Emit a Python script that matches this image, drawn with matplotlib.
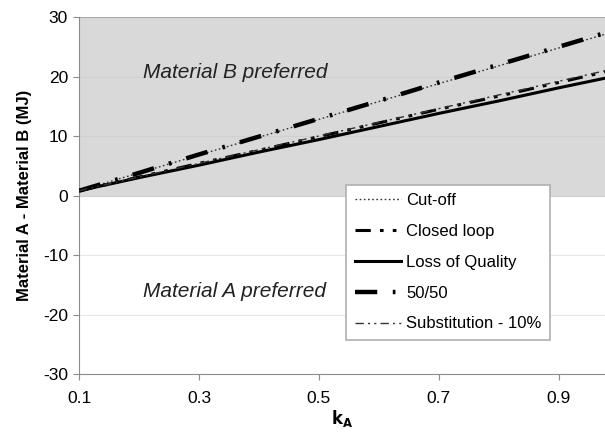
import matplotlib as mpl
import matplotlib.pyplot as plt
import numpy as np

mpl.rcParams["font.family"] = "Liberation Sans"
mpl.rcParams["axes.unicode_minus"] = False

# data
k = [0.1, 0.2, 0.3, 0.4, 0.5, 0.6, 0.7, 0.8, 0.9, 1.0]
cut_off = [0.8, 3.8, 6.8, 9.8, 12.8, 15.8, 18.8, 21.8, 24.8, 27.8]
closed_loop = [0.8, 3.1, 5.4, 7.6, 9.9, 12.2, 14.5, 16.7, 19.0, 21.3]
loss_quality = [0.8, 3.0, 5.1, 7.3, 9.4, 11.6, 13.8, 15.9, 18.1, 20.2]
fifty_fifty = [0.8, 3.8, 6.9, 9.9, 12.9, 15.9, 19.0, 22.0, 25.0, 28.0]
substitution = [0.8, 3.1, 5.4, 7.7, 10.0, 12.3, 14.6, 16.9, 19.2, 21.5]

x_ticks = [0.1, 0.3, 0.5, 0.7, 0.9]
y_ticks = [-30, -20, -10, 0, 10, 20, 30]

GRAY = "#8c8c8c"

fig = plt.figure(figsize=(6.05, 4.34), dpi=100)
ax = fig.add_axes([0.1306, 0.1382, 0.8694, 0.8226])

ax.axhspan(0, 30, color="#d9d9d9", zorder=0, lw=0)
for yv in y_ticks[1:-1]:
    ax.axhline(yv, color="#e6e6e6" if yv < 0 else "#d0d0d0", lw=0.8, zorder=0.5)

ax.plot(k, cut_off, color="#333333", lw=1.0, ls=(0, (1.2, 1.8)), label="Cut-off", zorder=3)
ax.plot(k, closed_loop, color="black", lw=2.2, ls=(0, (5, 3, 1.2, 3, 1.2, 3)), label="Closed loop", zorder=3)
ax.plot(k, loss_quality, color="black", lw=2.2, ls="-", label="Loss of Quality", zorder=3)
ax.plot(k, fifty_fifty, color="black", lw=3.2, ls=(0, (5, 3.5, 0.6, 3.5)), label="50/50", zorder=3)
ax.plot(k, substitution, color="#333333", lw=1.0, ls=(0, (6, 3, 1.5, 3, 1.5, 3)), label="Substitution - 10%", zorder=3)

ax.text(0.207, 20.6, "Material B preferred", fontsize=15, style="italic", va="center", ha="left", color="#222222")
ax.text(0.207, -16.1, "Material A preferred", fontsize=15, style="italic", va="center", ha="left", color="#222222")

ax.set_xlim(0.1, 0.977)
ax.set_ylim(-30, 30)
ax.set_xticks(x_ticks)
ax.set_xticklabels([f"{v:.1f}" for v in x_ticks])
ax.set_yticks(y_ticks)
ax.tick_params(axis="both", labelsize=12.5, color=GRAY, length=4, direction="out", pad=8)
ax.tick_params(axis="y", pad=4)

for side in ["top", "right"]:
    ax.spines[side].set_visible(False)
for side in ["left", "bottom"]:
    ax.spines[side].set_color(GRAY)
ax.axhline(30, color="#aaaaaa", lw=1.5, zorder=1)

ax.set_ylabel("Material A - Material B (MJ)", fontsize=12, fontweight="bold", labelpad=8)
ax.set_xlabel(r"$\mathbf{k_A}$", fontsize=12, labelpad=2)

leg = ax.legend(loc="upper left", bbox_to_anchor=(0.508, 0.53), borderaxespad=0, fontsize=12,
                frameon=True, fancybox=False, edgecolor="#b0b0b0", framealpha=1,
                handlelength=2.8, handletextpad=0.3, labelspacing=0.95, borderpad=0.5)
leg.get_frame().set_linewidth(1.2)

plt.savefig("out.png", dpi=100)
